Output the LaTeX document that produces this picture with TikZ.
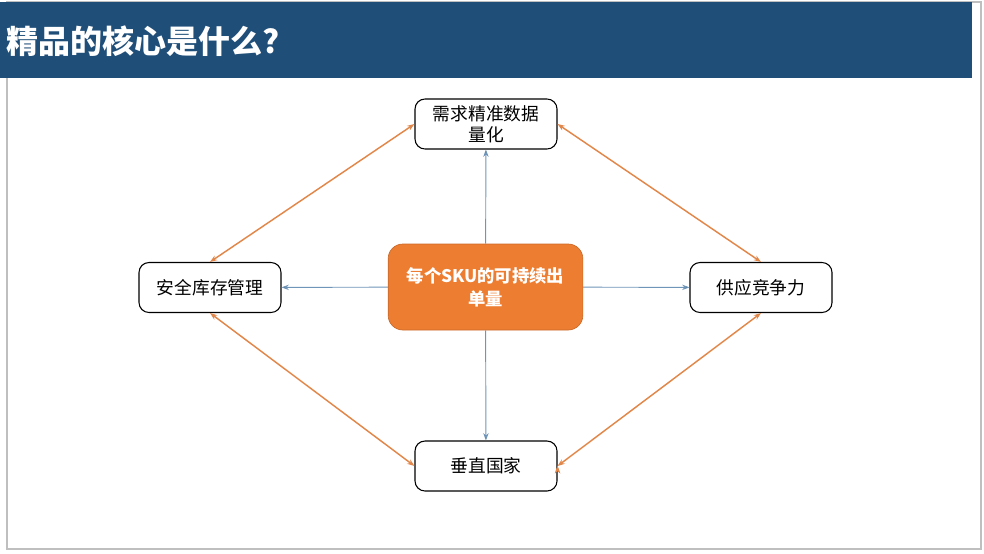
\documentclass[tikz,border=0pt]{standalone}
\usepackage{fontspec}
\setmainfont{Noto Sans CJK SC}
\usetikzlibrary{arrows.meta}

\definecolor{titleblue}{HTML}{1F4E79}
\definecolor{coreorange}{HTML}{ED7D31}
\definecolor{linkblue}{HTML}{6F95B8}
\definecolor{linkorange}{HTML}{E2874A}

\tikzstyle{factor} = [rectangle,rounded corners=7.5pt,draw=black,line width=0.8pt,minimum width=106.5pt,minimum height=37.5pt,align=center,inner sep=2pt,font=\fontsize{13.3}{16}\selectfont]
\tikzstyle{core} = [rectangle,rounded corners=11pt,fill=coreorange,draw=coreorange!85!black,line width=0.5pt,minimum width=146pt,minimum height=64.5pt,align=center,text=white,font=\fontsize{13}{17}\selectfont\bfseries]

\begin{document}
\begin{tikzpicture}[x=0.75pt,y=-0.75pt,>={Stealth[length=5.5pt,width=4pt]}]

	\useasboundingbox (0,0) rectangle (984,553);

	% slide frame and title
	\draw[black!25,line width=0.8pt] (7,2) rectangle (981,549);
	\fill[titleblue] (0,2) rectangle (972,78);
	\node (title) [anchor=west,text=white,font=\fontsize{24}{28}\selectfont\bfseries,inner sep=0pt] at (6,41) {精品的核心是什么?};

	% nodes
	\node (sku) [core] at (485.5,287) {每个SKU的可持续出\\单量};
	\node (demand) [factor] at (486,124) {需求精准数据\\量化};
	\node (stock) [factor] at (210,287.5) {安全库存管理};
	\node (supply) [factor] at (761,287.5) {供应竞争力};
	\node (vertical) [factor] at (486,466) {垂直国家};

	% core to factors
	\path[->,draw=linkblue,line width=0.7pt]
		(sku) edge (demand)
		(sku) edge (stock)
		(sku) edge (supply)
		(sku) edge (vertical)
		;

	% factor to factor
	\path[<->,draw=linkorange,line width=1.1pt]
		(demand.west) edge (stock.north)
		(demand.east) edge (supply.north)
		(vertical.west) edge (stock.south)
		(vertical.east) edge (supply.south)
		;

\end{tikzpicture}
\end{document}
